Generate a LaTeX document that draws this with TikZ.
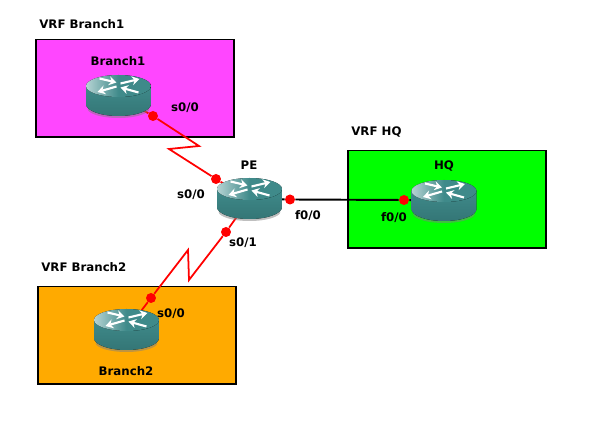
\documentclass[tikz,border=0pt]{standalone}
\usepackage{fontspec}
\usetikzlibrary{arrows.meta}
\setmainfont{DejaVu Sans}
\definecolor{routerteal}{HTML}{3F8A8A}
\definecolor{routerdark}{HTML}{347676}
\definecolor{routerlight}{HTML}{B5D3D3}
\tikzset{
	vrfbox/.style={draw=black, line width=1.13pt, minimum width=3.98cm, minimum height=1.96cm, inner sep=0pt},
	routerspot/.style={minimum width=0.6cm, minimum height=0.3cm, inner sep=0pt},
	portdot/.style={circle, fill=red, inner sep=0pt, minimum size=0.2cm},
	redlink/.style={draw=red, line width=1pt},
	blacklink/.style={draw=black, line width=1.1pt},
	lbl/.style={font=\fontsize{6.7}{8}\selectfont\bfseries, text=black, inner sep=0pt},
	whitearrow/.style={white, line width=1.2pt, -{Stealth[length=1.5mm,width=1.8mm]}},
	router/.pic={
		\fill[black!50, opacity=0.5] (-0.62,-0.25) arc (180:360:0.62 and 0.19) -- cycle;
		\fill[top color=routerteal, bottom color=routerdark]
			(-0.65,0.2) -- (-0.65,-0.16) arc (180:360:0.65 and 0.24) -- (0.65,0.2) -- cycle;
		\fill[left color=routerlight, right color=routerteal, middle color=routerteal] (0,0.2) ellipse (0.65 and 0.22);
		\draw[whitearrow] (-0.38,0.35) -- (-0.04,0.27);
		\draw[whitearrow] (0.04,0.25) -- (0.42,0.34);
		\draw[whitearrow] (-0.04,0.19) -- (-0.42,0.08);
		\draw[whitearrow] (0.4,0.07) -- (0.04,0.17);
	}
}
\begin{document}
\begin{tikzpicture}[x=0.02cm, y=-0.02cm, >=stealth]
	\useasboundingbox (0,0) rectangle (596,445);
	\fill[white] (0,0) rectangle (596,445);
	% vrf areas
	\node[vrfbox, fill={rgb,255:red,255;green,70;blue,255}] (boxBranch1) at (135,88.5) {};
	\node[vrfbox, fill={rgb,255:red,0;green,255;blue,0}] (boxHQ) at (447,199.5) {};
	\node[vrfbox, fill={rgb,255:red,255;green,170;blue,0}] (boxBranch2) at (137,335.5) {};
	\node[lbl, anchor=west] (vrfBranch1) at (39,24) {VRF Branch1};
	\node[lbl, anchor=west] (vrfHQ) at (351,132) {VRF HQ};
	\node[lbl, anchor=west] (vrfBranch2) at (41,267) {VRF Branch2};
	% routers and ports
	\node[routerspot] (Branch1) at (118.5,96) {};
	\node[routerspot] (PE) at (249.5,199) {};
	\node[routerspot] (HQ) at (444,201) {};
	\node[routerspot] (Branch2) at (126.5,330) {};
	\node[portdot] (b1s0) at (153,116) {};
	\node[portdot] (pes00) at (216,179) {};
	\node[portdot] (pes01) at (226,232) {};
	\node[portdot] (pef00) at (290,199.5) {};
	\node[portdot] (hqf00) at (404,200) {};
	\node[portdot] (b2s0) at (151,298) {};
	\coordinate (zigA) at (199,146);
	\coordinate (zigB) at (169,149);
	\coordinate (zigC) at (189,280);
	\coordinate (zigD) at (188,250);
	% links
	\draw[redlink] (Branch1) -- (b1s0) -- (zigA) -- (zigB) -- (pes00) -- (PE);
	\draw[redlink] (PE) -- (pes01) -- (zigC) -- (zigD) -- (b2s0) -- (Branch2);
	\draw[blacklink] (PE) -- (pef00) -- (hqf00) -- (HQ);
	\foreach \r in {Branch1,PE,HQ,Branch2}
		\pic[x=1cm, y=1cm] at (\r) {router};
	% labels
	\node[lbl] (nameBranch1) at (118,61) {Branch1};
	\node[lbl] (namePE) at (249,165) {PE};
	\node[lbl] (nameHQ) at (444,166) {HQ};
	\node[lbl] (nameBranch2) at (126,371) {Branch2};
	\node[lbl] (txtb1s0) at (185,108) {s0/0};
	\node[lbl] (txtpes00) at (191,195) {s0/0};
	\node[lbl] (txtpes01) at (243,243) {s0/1};
	\node[lbl] (txtpef00) at (308,216) {f0/0};
	\node[lbl] (txthqf00) at (394,218) {f0/0};
	\node[lbl] (txtb2s0) at (171,314) {s0/0};
\end{tikzpicture}
\end{document}
